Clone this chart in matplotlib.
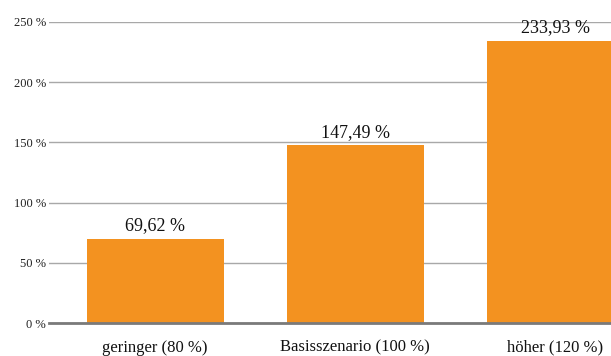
import numpy as np
import matplotlib.pyplot as plt

scenarios = ['geringer (80 %)', 'Basisszenario (100 %)', 'höher (120 %)']
values = [69.62, 147.49, 233.93]
yticks = [0, 50, 100, 150, 200, 250]

plt.rcParams['font.family'] = ['Liberation Serif', 'DejaVu Serif']

fig = plt.figure(figsize=(6.11, 3.56), dpi=100)
ax = fig.add_axes([49 / 611, 33 / 356, 562 / 611, 301 / 356])

x = np.arange(len(values))
ax.bar(x, values, width=0.685, color='#F39220', zorder=2)

for xi, v in zip(x, values):
    ax.text(xi, v + 4, f'{v:.2f} %'.replace('.', ','), ha='center', va='bottom',
            fontsize=13, color='#111111', clip_on=False)

ax.set_xlim(-0.53, 2.28)
ax.set_ylim(0, 250)
ax.set_yticks(yticks)
ax.set_yticklabels([f'{t} %' for t in yticks], fontsize=9, color='#222222')
ax.set_xticks(x)
ax.set_xticklabels(scenarios, fontsize=12, color='#111111')
ax.tick_params(length=0, axis='y', pad=2)
ax.tick_params(length=0, axis='x', pad=12)
ax.get_xticklabels()[-1].set_x(1.97)

ax.grid(axis='y', color='#a8a8a8', linewidth=1, zorder=0)
for s in ['top', 'right', 'left']:
    ax.spines[s].set_visible(False)
ax.spines['bottom'].set_color('#7a7a7a')
ax.spines['bottom'].set_linewidth(2)
ax.spines['bottom'].set_zorder(3)

fig.savefig('out.png', dpi=100)
